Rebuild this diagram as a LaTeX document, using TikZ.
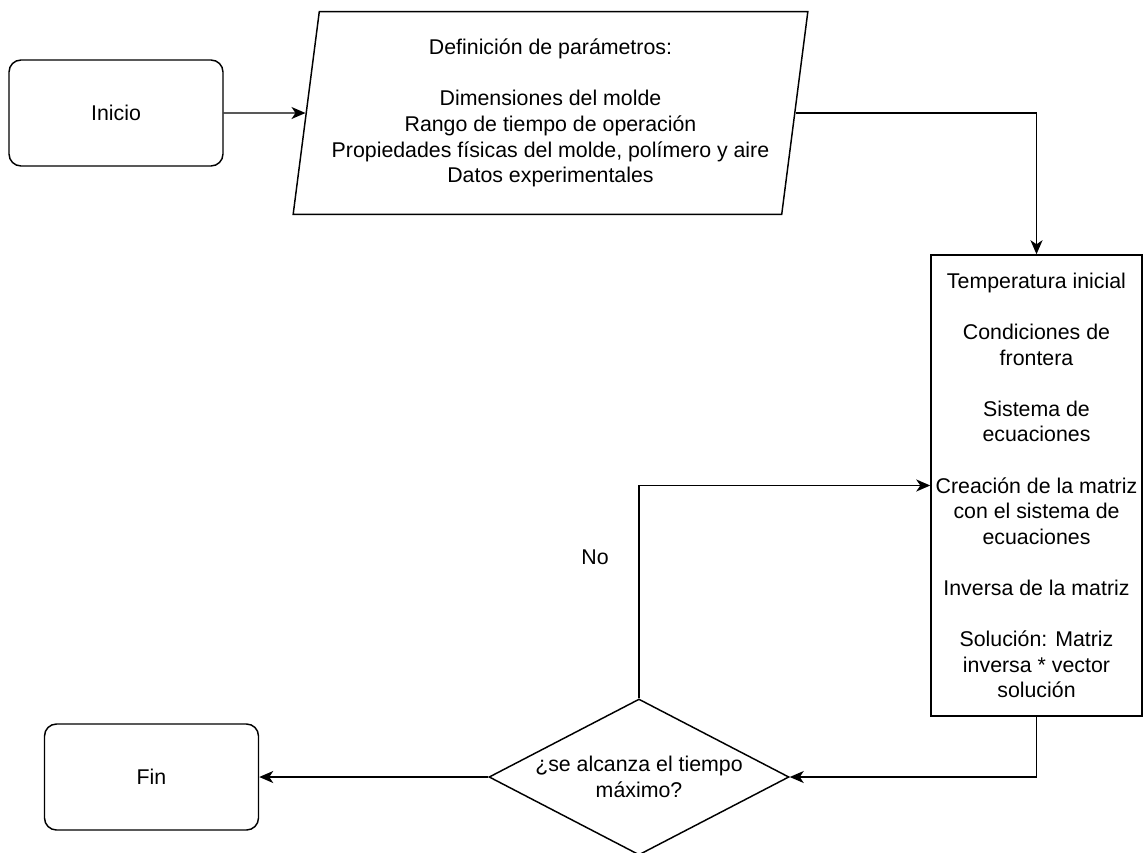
\documentclass[tikz,border=0pt]{standalone}
\usepackage{fontspec}
\setmainfont{Liberation Sans}
\usetikzlibrary{shapes.geometric,arrows.meta}
\begin{document}
\begin{tikzpicture}[x=0.75pt,y=-0.75pt,
  every node/.style={font=\fontsize{16}{19.2}\selectfont, text=black},
  term/.style={draw, line width=1.1pt, rounded corners=9pt, minimum width=160.5pt, minimum height=79.5pt},
  io/.style={draw, line width=1.1pt, trapezium, trapezium left angle=80, trapezium right angle=100, trapezium stretches body, minimum width=386pt, minimum height=152pt, inner sep=0pt, align=center},
  proc/.style={draw, line width=1.1pt, rectangle, minimum width=158.25pt, minimum height=345.75pt, inner sep=0pt, align=center},
  dec/.style={draw, line width=1.1pt, diamond, minimum width=225pt, minimum height=117pt, inner sep=0pt},
  conn/.style={line width=1.1pt, -{Stealth[length=10.5pt,width=9pt,inset=3pt]}}
]
\useasboundingbox (0,0) rectangle (1143,853);
\node[term] (inicio) at (116,113) {Inicio};
\node[io] (param) at (550.5,113) {Definición de parámetros:\\[19.2pt] Dimensiones del molde\\ Rango de tiempo de operación\\ Propiedades físicas del molde, polímero y aire\\ Datos experimentales};
\node[proc] (proc) at (1036.5,485.5) {Temperatura inicial\\[19.2pt] Condiciones de\\ frontera\\[19.2pt] Sistema de\\ ecuaciones\\[19.2pt] Creación de la matriz\\ con el sistema de\\ ecuaciones\\[19.2pt] Inversa de la matriz\\[19.2pt] Solución: Matriz\\ inversa * vector\\ solución};
\node[dec, label={[align=center]center:{¿se alcanza el tiempo\\ máximo?}}] (dec) at (639,777) {};
\node[term] (fin) at (151.5,777) {Fin};
\node (no) at (595,557) {No};
\draw[conn] (inicio) -- (param);
\draw[conn] (param) -| (proc);
\draw[conn] (dec) |- (proc);
\draw[conn] (proc) |- (dec);
\draw[conn] (dec) -- (fin);
\end{tikzpicture}
\end{document}
